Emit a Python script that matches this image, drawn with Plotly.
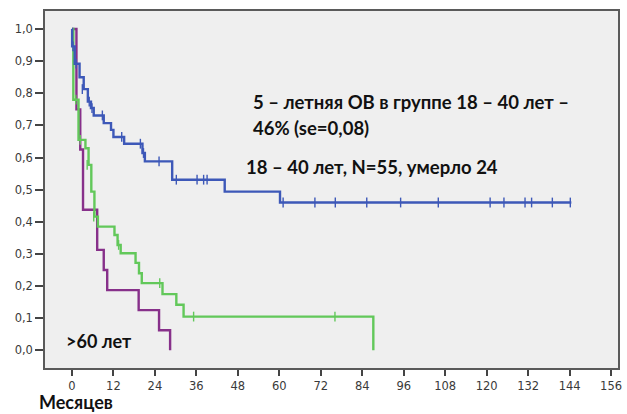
import plotly.graph_objects as go

# Kaplan-Meier step curves: event times (months) and survival after each step
blue_t = [0, 0.05, 0.8, 2.2, 3.4, 4.6, 5.5, 6.3, 9.2, 11.3, 12.0, 15.1, 20.4, 21.1, 29.0, 44.2, 60.2, 144.5]
blue_s = [1.0, 0.946, 0.892, 0.850, 0.813, 0.774, 0.754, 0.731, 0.707, 0.686, 0.664, 0.643, 0.614, 0.588, 0.531, 0.494, 0.460, 0.460]
blue_cens_t = [0.3, 1.2, 3.0, 5.0, 5.8, 8.8, 14.4, 19.8, 20.7, 25.2, 30.2, 36.2, 38.1, 39.1,
               61.1, 70.3, 76.2, 85.3, 95.1, 106.0, 121.0, 125.0, 131.1, 133.0, 139.0, 144.2]
blue_cens_s = [0.946, 0.892, 0.813, 0.774, 0.754, 0.731, 0.664, 0.643, 0.614, 0.588, 0.531, 0.531, 0.531, 0.531,
               0.46, 0.46, 0.46, 0.46, 0.46, 0.46, 0.46, 0.46, 0.46, 0.46, 0.46, 0.46]

green_t = [0, 0.4, 1.9, 3.9, 4.8, 5.6, 6.5, 7.5, 12.3, 13.2, 14.1, 18.4, 19.4, 20.2, 26.2, 30.2, 32.3, 87.2, 87.2]
green_s = [1.0, 0.780, 0.655, 0.629, 0.577, 0.494, 0.416, 0.385, 0.359, 0.328, 0.302, 0.272, 0.240, 0.209, 0.175, 0.142, 0.105, 0.105, 0.0]
green_cens_t = [1.1, 2.4, 4.4, 6.3, 13.5, 25.4, 35.2, 76.1]
green_cens_s = [0.780, 0.655, 0.577, 0.416, 0.328, 0.209, 0.105, 0.105]

purple_t = [0, 1.3, 2.4, 3.2, 7.3, 9.2, 10.2, 19.3, 25.2, 28.4, 28.4]
purple_s = [1.0, 0.75, 0.625, 0.4375, 0.3125, 0.25, 0.1875, 0.125, 0.0625, 0.0625, 0.0]

x_ticks = list(range(0, 157, 12))
y_ticks = [0.0, 0.1, 0.2, 0.3, 0.4, 0.5, 0.6, 0.7, 0.8, 0.9, 1.0]
y_tick_text = ["0,0", "0,1", "0,2", "0,3", "0,4", "0,5", "0,6", "0,7", "0,8", "0,9", "1,0"]

BLUE = "#3d58b8"
GREEN = "#62c85a"
PURPLE = "#87308a"

fig = go.Figure()

for t, s, c in [(purple_t, purple_s, PURPLE), (green_t, green_s, GREEN), (blue_t, blue_s, BLUE)]:
    fig.add_trace(go.Scatter(x=t, y=s, mode="lines", line=dict(color=c, width=2.4, shape="hv"),
                             showlegend=False, hoverinfo="skip"))

# censoring ticks
for t, s, c in [(green_cens_t, green_cens_s, GREEN), (blue_cens_t, blue_cens_s, BLUE)]:
    fig.add_trace(go.Scatter(x=t, y=s, mode="markers",
                             marker=dict(symbol="line-ns-open", size=7, color=c,
                                         line=dict(color=c, width=1.4)),
                             showlegend=False, hoverinfo="skip"))

ann_font = dict(family="Lato, 'Open Sans', sans-serif", size=18.5, color="#111111")
fig.add_annotation(x=51.7, y=0.773, text="<b>5 – летняя ОВ в группе 18 – 40 лет –</b>",
                   showarrow=False, xanchor="left", yanchor="middle", font=ann_font)
fig.add_annotation(x=51.7, y=0.692, text="<b>46% (se=0,08)</b>",
                   showarrow=False, xanchor="left", yanchor="middle", font=ann_font)
fig.add_annotation(x=49.9, y=0.571, text="<b>18 – 40 лет, N=55, умерло 24</b>",
                   showarrow=False, xanchor="left", yanchor="middle", font=ann_font)
fig.add_annotation(x=-2.4, y=0.029, text="<b>>60 лет</b>",
                   showarrow=False, xanchor="left", yanchor="middle",
                   font=dict(family="Lato, 'Open Sans', sans-serif", size=18, color="#111111"))
fig.add_annotation(x=-0.012, y=-0.1285, xref="paper", yref="paper", text="<b>Месяцев</b>",
                   showarrow=False, xanchor="left", yanchor="bottom", borderpad=0,
                   font=dict(family="Lato, 'Open Sans', sans-serif", size=18, color="#111111"))

tick_font = dict(family="DejaVu Sans", size=11.5, color="#3a3a3a")
fig.update_xaxes(range=[-7.8, 158], tickvals=x_ticks, ticks="outside", ticklen=6, tickwidth=1.5,
                 tickcolor="#444444", showgrid=False, zeroline=False, showline=True, mirror=True,
                 linecolor="#5a5a5a", linewidth=1.5, tickfont=tick_font)
fig.update_yaxes(range=[-0.055, 1.056], tickvals=y_ticks, ticktext=y_tick_text, ticks="outside",
                 ticklen=8, tickwidth=1.5, tickcolor="#444444", showgrid=False, zeroline=False,
                 showline=True, mirror=True, linecolor="#5a5a5a", linewidth=1.5, tickfont=tick_font)

fig.update_layout(width=627, height=414, margin=dict(l=45, r=5, t=11, b=46),
                  plot_bgcolor="#efefef", paper_bgcolor="#ffffff")

fig.write_html("out.html")
